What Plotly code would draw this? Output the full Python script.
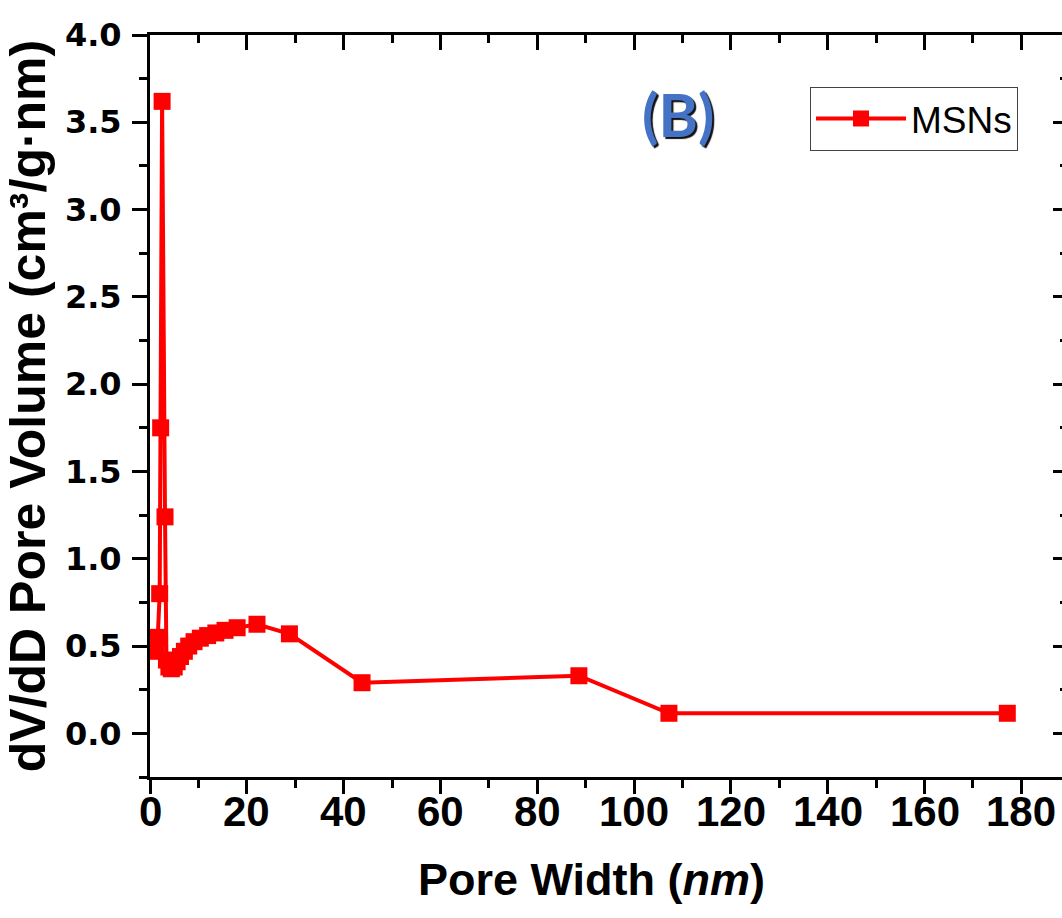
import plotly.graph_objects as go

# BJH pore size distribution of MSNs
pore_width = [1.3, 1.6, 2.0, 2.2, 2.5, 3.1, 3.4, 3.9, 4.4, 5.0, 5.6, 6.3, 7.1, 8.0,
              9.1, 10.4, 11.9, 13.6, 15.5, 18.0, 22.1, 28.8, 43.8, 88.6, 107.2, 177.1]
dv_dd = [0.47, 0.55, 0.80, 1.75, 3.62, 1.24, 0.42, 0.38, 0.37, 0.38, 0.41, 0.44, 0.47, 0.50,
         0.525, 0.545, 0.56, 0.575, 0.59, 0.605, 0.625, 0.57, 0.29, 0.33, 0.115, 0.115]

x_ticks = [0, 20, 40, 60, 80, 100, 120, 140, 160, 180]
x_tick_text = [str(v) for v in x_ticks]
y_ticks = [0.0, 0.5, 1.0, 1.5, 2.0, 2.5, 3.0, 3.5, 4.0]
y_tick_text = [f"{v:.1f}" for v in y_ticks]

RED = "#ff0000"
FONT = "Liberation Sans, Arial, sans-serif"
WIDE = "DejaVu Sans, Verdana, sans-serif"

fig = go.Figure()
fig.add_trace(go.Scatter(
    x=pore_width, y=dv_dd, mode="lines+markers", name="MSNs",
    line=dict(color=RED, width=4),
    marker=dict(symbol="square", size=17, color=RED),
))
# anchor trace for the mirrored top/right axes
fig.add_trace(go.Scatter(
    x=[x_ticks[0]], y=[y_ticks[0]], xaxis="x2", yaxis="y2", mode="markers",
    marker=dict(opacity=0), showlegend=False, hoverinfo="skip",
))

x_range = [0, 188.4]
y_range = [-0.25, 4.0]

# bottom tick labels sit close under the tick marks
x_labels = [
    dict(text=f"<b>{t}</b>", x=v, xref="x", y=-0.012, yref="paper",
         xanchor="center", yanchor="top", showarrow=False,
         font=dict(size=42, family=FONT, color="black"))
    for v, t in zip(x_ticks, x_tick_text)
]

fig.update_layout(
    width=1062, height=918,
    margin=dict(l=150, r=0, t=35, b=141),
    paper_bgcolor="white", plot_bgcolor="white",
    font=dict(family=FONT, color="black"),
    showlegend=True,
    legend=dict(
        x=0.7237, y=0.93, xanchor="left", yanchor="top",
        bordercolor="#444", borderwidth=1, bgcolor="white",
        font=dict(size=37, family=FONT), itemwidth=90,
    ),
    xaxis=dict(
        range=x_range, tickvals=x_ticks, ticks="outside", ticklen=14, tickwidth=3,
        tickcolor="black", showline=True, linewidth=3, linecolor="black", mirror=True,
        showgrid=False, zeroline=False, showticklabels=False,
        minor=dict(dtick=10, tick0=0, ticks="outside", ticklen=8, tickwidth=3, tickcolor="black"),
    ),
    yaxis=dict(
        range=y_range, tickvals=y_ticks, ticktext=y_tick_text, ticks="outside", ticklen=15,
        tickwidth=3, tickcolor="black", showline=True, linewidth=3, linecolor="black",
        showgrid=False, zeroline=False, ticklabelstandoff=4,
        tickfont=dict(size=32, family=WIDE, weight="bold"),
        minor=dict(dtick=0.25, tick0=0, ticks="outside", ticklen=8, tickwidth=3, tickcolor="black"),
        title=dict(text="dV/dD Pore Volume (cm³/g·nm)", font=dict(size=50, family=FONT, weight="bold"), standoff=8),
    ),
    xaxis2=dict(
        range=x_range, overlaying="x", side="top", anchor="y", tickvals=x_ticks,
        ticks="inside", ticklen=15, tickwidth=3, tickcolor="black", showticklabels=False,
        showline=False, showgrid=False, zeroline=False,
        minor=dict(dtick=10, tick0=0, ticks="inside", ticklen=8, tickwidth=3, tickcolor="black"),
    ),
    yaxis2=dict(
        range=y_range, overlaying="y", side="right", anchor="x", tickvals=y_ticks,
        ticks="inside", ticklen=9, tickwidth=3, tickcolor="black", showticklabels=False,
        showline=False, showgrid=False, zeroline=False,
        minor=dict(dtick=0.25, tick0=0, ticks="inside", ticklen=2, tickwidth=3, tickcolor="black"),
    ),
    annotations=x_labels + [
        dict(
            text="<b>(B)</b>", x=0.579, y=0.894, xref="paper", yref="paper",
            showarrow=False, xanchor="center", yanchor="middle",
            font=dict(size=60, family="Lato, sans-serif", color="#4472c4",
                      shadow="2px 2px 1px #111"),
        ),
        dict(
            text="<b>Pore Width (<i>nm</i>)</b>", x=0.4846, y=-0.1388, xref="paper", yref="paper",
            showarrow=False, xanchor="center", yanchor="middle",
            font=dict(size=45, family=FONT, color="black"),
        ),
    ],
)

fig.write_html("out.html")
